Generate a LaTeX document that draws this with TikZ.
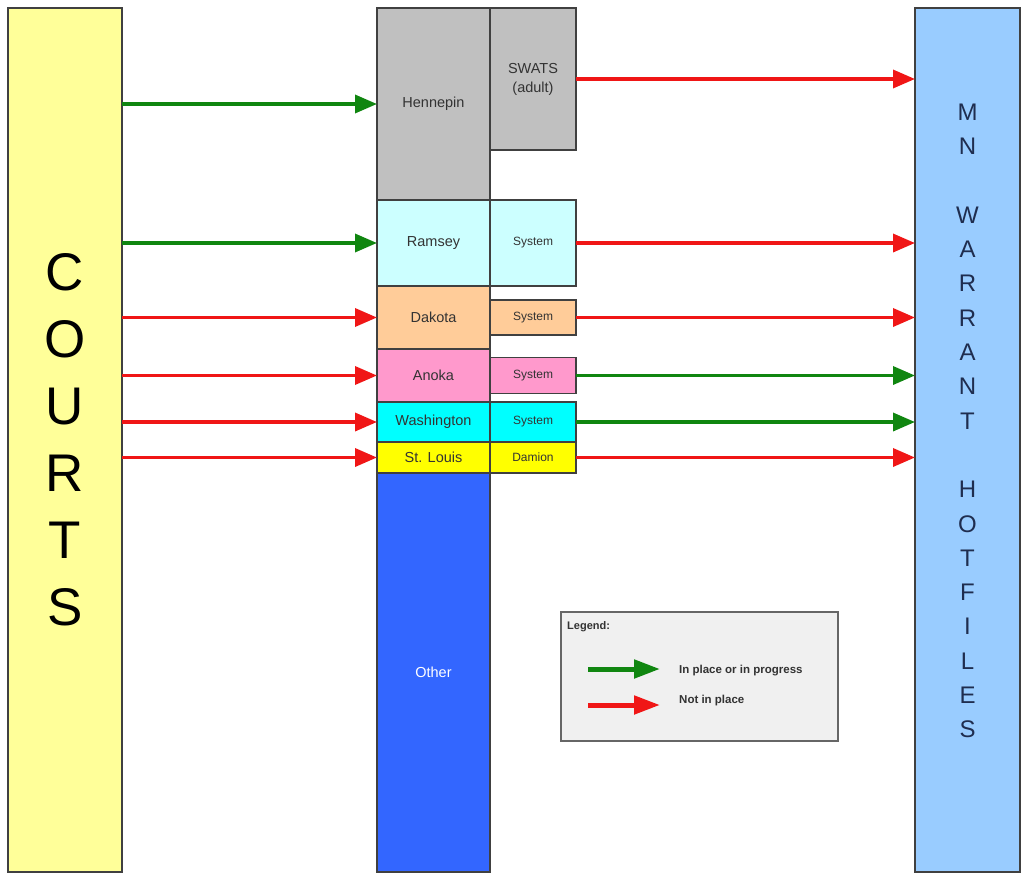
\documentclass[tikz,border=0pt]{standalone}
\usepackage{fontspec}
\setmainfont{Liberation Sans}
\usetikzlibrary{positioning, arrows.meta, calc}

\definecolor{courtfill}{HTML}{FFFF99}
\definecolor{hotfill}{HTML}{99CCFF}
\definecolor{hottext}{HTML}{1F2D4F}
\definecolor{henfill}{HTML}{C0C0C0}
\definecolor{ramfill}{HTML}{CCFFFF}
\definecolor{dakfill}{HTML}{FFCC99}
\definecolor{anofill}{HTML}{FF99CC}
\definecolor{wasfill}{HTML}{00FFFF}
\definecolor{stlfill}{HTML}{FFFF00}
\definecolor{othfill}{HTML}{3366FF}
\definecolor{legfill}{HTML}{F0F0F0}
\definecolor{okgreen}{RGB}{16,134,16}
\definecolor{notred}{RGB}{240,22,22}

\begin{document}
\begin{tikzpicture}[x=1pt, y=-1pt,
    box/.style={draw=black!75, line width=1.3pt, inner sep=0pt, outer sep=0pt,
        anchor=north west, align=center, text=black!80,
        font=\fontsize{14.5}{17}\selectfont},
    county/.style={box, minimum width=113pt},
    sys/.style={box, minimum width=86pt, font=\fontsize{12}{14}\selectfont},
    flow/.style={line width=3.5pt, -{Triangle[length=22pt, width=18pt]}},
    ok/.style={flow, draw=okgreen},
    notok/.style={flow, draw=notred},
    legtext/.style={anchor=west, inner sep=0pt, font=\bfseries\fontsize{11.5}{13}\selectfont, text=black!80},
]
    \useasboundingbox (0,0) rectangle (1021,875);

    \node[box, fill=courtfill, minimum width=114pt, minimum height=864pt,
        font=\fontsize{53}{67}\selectfont, text=black] (courts) at (8,8) {C\\O\\U\\R\\T\\S};

    \node[county, fill=henfill, minimum height=192pt] (hen) at (377,8) {Hennepin};
    \node[county, fill=ramfill, minimum height=86pt, below=0pt of hen] (ram) {Ramsey};
    \node[county, fill=dakfill, minimum height=63pt, below=0pt of ram] (dak) {Dakota};
    \node[county, fill=anofill, minimum height=53pt, below=0pt of dak] (ano) {Anoka};
    \node[county, fill=wasfill, minimum height=40pt, below=0pt of ano] (was) {Washington};
    \node[county, fill=stlfill, minimum height=31pt, below=0pt of was] (stl) {St. Louis};
    \node[county, fill=othfill, minimum height=399pt, below=0pt of stl, text=white] (oth) {Other};

    \node[sys, fill=henfill, minimum height=142pt, font=\fontsize{14.5}{19}\selectfont] (swats) at (hen.north east) {SWATS\\(adult)};
    \node[sys, fill=ramfill, minimum height=86pt, right=0pt of ram] (sysram) {System};
    \node[sys, fill=dakfill, minimum height=35pt, right=0pt of dak] (sysdak) {System};
    \node[sys, fill=anofill, minimum height=36pt, right=0pt of ano] (sysano) {System};
    \node[sys, fill=wasfill, minimum height=40pt, right=0pt of was] (syswas) {System};
    \node[sys, fill=stlfill, minimum height=31pt, right=0pt of stl] (dam) {Damion};

    \node[box, fill=hotfill, minimum width=105pt, minimum height=864pt] (hot) at (915,8) {};
    \node[align=center, inner sep=0pt, text=hottext, font=\fontsize{24}{34.3}\selectfont] (hotlbl) at (967.5,421)
        {M\\N\\[34.3pt]W\\A\\R\\R\\A\\N\\T\\[34.3pt]H\\O\\T\\F\\I\\L\\E\\S};

    \draw
        (courts.east |- hen) edge[ok] (hen)
        (courts.east |- ram) edge[ok] (ram)
        (courts.east |- dak) edge[notok] (dak)
        (courts.east |- ano) edge[notok] (ano)
        (courts.east |- was) edge[notok] (was)
        (courts.east |- stl) edge[notok] (stl)
        (swats) edge[notok] (hot.west |- swats)
        (sysram) edge[notok] (hot.west |- sysram)
        (sysdak) edge[notok] (hot.west |- sysdak)
        (sysano) edge[ok] (hot.west |- sysano)
        (syswas) edge[ok] (hot.west |- syswas)
        (dam) edge[notok] (hot.west |- dam)
        ;

    \node[box, fill=legfill, draw=black!60, minimum width=277pt, minimum height=129pt] (legend) at (561,612) {};
    \node[anchor=north west, inner sep=0pt, font=\bfseries\fontsize{11}{13}\selectfont, text=black!80] (legtitle)
        at ($(legend.north west)+(6,9)$) {Legend:};
    \node[legtext] (okl) at (679,671) {In place or in progress};
    \node[legtext] (nol) at (679,701) {Not in place};
    \coordinate (oks) at (588,669);
    \coordinate (oke) at (660,669);
    \coordinate (nos) at (588,705);
    \coordinate (noe) at (660,705);
    \draw
        (oks) edge[ok, line width=5pt, -{Triangle[length=26pt, width=18pt]}] (oke)
        (nos) edge[notok, line width=5pt, -{Triangle[length=26pt, width=18pt]}] (noe)
        ;
\end{tikzpicture}
\end{document}
